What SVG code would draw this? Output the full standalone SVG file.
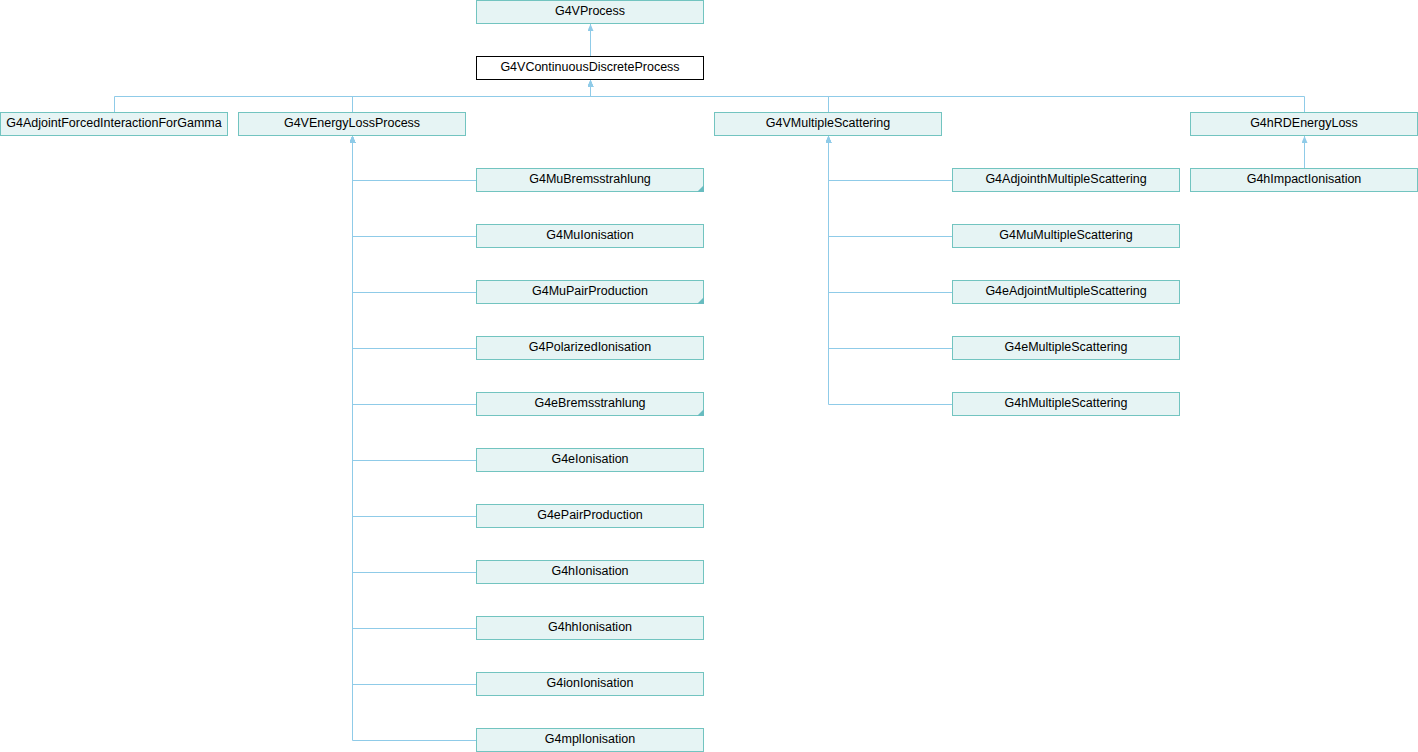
<svg xmlns="http://www.w3.org/2000/svg" width="1418" height="752" viewBox="0 0 1418 752">
<style>
.n rect{fill:#e6f4f4;stroke:#72c4c0;stroke-width:1}
.n.cur rect{fill:#ffffff;stroke:#000000}
.n text{font-family:"Liberation Sans",Arial,sans-serif;font-size:12.5px;fill:#000;text-anchor:middle}
.n polygon{fill:#68bcc0}
#edges path{fill:none;stroke:#8fcbe8;stroke-width:1;marker-end:url(#ah)}
</style>
<defs>
<marker id="ah" viewBox="0 0 7 6" refX="7" refY="3" markerWidth="7" markerHeight="6" markerUnits="userSpaceOnUse" orient="auto">
<path d="M0,0 L7,3 L0,6 z" fill="#8fcbe8"/>
</marker>
</defs>
<rect width="1418" height="752" fill="#ffffff"/>
<g id="edges">
<path d="M590.5,56.5 V24"/>
<path d="M114.5,112.5 V96.5 H590.5 V80"/>
<path d="M352.5,112.5 V96.5 H590.5 V80"/>
<path d="M828.5,112.5 V96.5 H590.5 V80"/>
<path d="M1304.5,112.5 V96.5 H590.5 V80"/>
<path d="M476.5,180.5 H352.5 V136"/>
<path d="M476.5,236.5 H352.5 V136"/>
<path d="M476.5,292.5 H352.5 V136"/>
<path d="M476.5,348.5 H352.5 V136"/>
<path d="M476.5,404.5 H352.5 V136"/>
<path d="M476.5,460.5 H352.5 V136"/>
<path d="M476.5,516.5 H352.5 V136"/>
<path d="M476.5,572.5 H352.5 V136"/>
<path d="M476.5,628.5 H352.5 V136"/>
<path d="M476.5,684.5 H352.5 V136"/>
<path d="M476.5,740.5 H352.5 V136"/>
<path d="M952.5,180.5 H828.5 V136"/>
<path d="M952.5,236.5 H828.5 V136"/>
<path d="M952.5,292.5 H828.5 V136"/>
<path d="M952.5,348.5 H828.5 V136"/>
<path d="M952.5,404.5 H828.5 V136"/>
<path d="M1304.5,168.5 V136"/>
</g>
<g id="G4VProcess" class="n"><rect x="476.5" y="0.5" width="227" height="23"/><text x="590" y="15.3">G4VProcess</text></g>
<g id="G4VContinuousDiscreteProcess" class="n cur"><rect x="476.5" y="56.5" width="227" height="23"/><text x="590" y="71.3">G4VContinuousDiscreteProcess</text></g>
<g id="G4AdjointForcedInteractionForGamma" class="n"><rect x="0.5" y="112.5" width="227" height="23"/><text x="114" y="127.3">G4AdjointForcedInteractionForGamma</text></g>
<g id="G4VEnergyLossProcess" class="n"><rect x="238.5" y="112.5" width="227" height="23"/><text x="352" y="127.3">G4VEnergyLossProcess</text></g>
<g id="G4VMultipleScattering" class="n"><rect x="714.5" y="112.5" width="227" height="23"/><text x="828" y="127.3">G4VMultipleScattering</text></g>
<g id="G4hRDEnergyLoss" class="n"><rect x="1190.5" y="112.5" width="227" height="23"/><text x="1304" y="127.3">G4hRDEnergyLoss</text></g>
<g id="G4hImpactIonisation" class="n"><rect x="1190.5" y="168.5" width="227" height="23"/><text x="1304" y="183.3">G4hImpactIonisation</text></g>
<g id="G4MuBremsstrahlung" class="n"><rect x="476.5" y="168.5" width="227" height="23"/><text x="590" y="183.3">G4MuBremsstrahlung</text><polygon points="704,185 704,192 697,192"/></g>
<g id="G4MuIonisation" class="n"><rect x="476.5" y="224.5" width="227" height="23"/><text x="590" y="239.3">G4MuIonisation</text></g>
<g id="G4MuPairProduction" class="n"><rect x="476.5" y="280.5" width="227" height="23"/><text x="590" y="295.3">G4MuPairProduction</text><polygon points="704,297 704,304 697,304"/></g>
<g id="G4PolarizedIonisation" class="n"><rect x="476.5" y="336.5" width="227" height="23"/><text x="590" y="351.3">G4PolarizedIonisation</text></g>
<g id="G4eBremsstrahlung" class="n"><rect x="476.5" y="392.5" width="227" height="23"/><text x="590" y="407.3">G4eBremsstrahlung</text><polygon points="704,409 704,416 697,416"/></g>
<g id="G4eIonisation" class="n"><rect x="476.5" y="448.5" width="227" height="23"/><text x="590" y="463.3">G4eIonisation</text></g>
<g id="G4ePairProduction" class="n"><rect x="476.5" y="504.5" width="227" height="23"/><text x="590" y="519.3">G4ePairProduction</text></g>
<g id="G4hIonisation" class="n"><rect x="476.5" y="560.5" width="227" height="23"/><text x="590" y="575.3">G4hIonisation</text></g>
<g id="G4hhIonisation" class="n"><rect x="476.5" y="616.5" width="227" height="23"/><text x="590" y="631.3">G4hhIonisation</text></g>
<g id="G4ionIonisation" class="n"><rect x="476.5" y="672.5" width="227" height="23"/><text x="590" y="687.3">G4ionIonisation</text></g>
<g id="G4mplIonisation" class="n"><rect x="476.5" y="728.5" width="227" height="23"/><text x="590" y="743.3">G4mplIonisation</text></g>
<g id="G4AdjointhMultipleScattering" class="n"><rect x="952.5" y="168.5" width="227" height="23"/><text x="1066" y="183.3">G4AdjointhMultipleScattering</text></g>
<g id="G4MuMultipleScattering" class="n"><rect x="952.5" y="224.5" width="227" height="23"/><text x="1066" y="239.3">G4MuMultipleScattering</text></g>
<g id="G4eAdjointMultipleScattering" class="n"><rect x="952.5" y="280.5" width="227" height="23"/><text x="1066" y="295.3">G4eAdjointMultipleScattering</text></g>
<g id="G4eMultipleScattering" class="n"><rect x="952.5" y="336.5" width="227" height="23"/><text x="1066" y="351.3">G4eMultipleScattering</text></g>
<g id="G4hMultipleScattering" class="n"><rect x="952.5" y="392.5" width="227" height="23"/><text x="1066" y="407.3">G4hMultipleScattering</text></g>
</svg>
